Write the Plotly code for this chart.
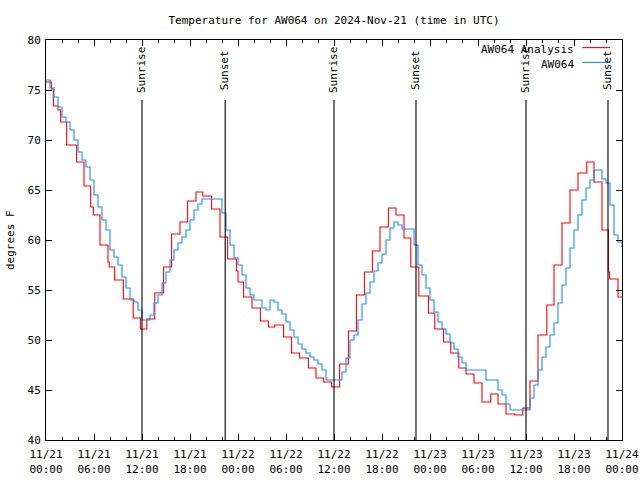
import numpy as np
import pandas as pd
import plotly.graph_objects as go

# ---------------- data ----------------
base = pd.Timestamp("2024-11-21 00:00")

# AW064 Analysis (hour offset of step start, temperature F)
red_hours = [0.0, 0.67, 0.92, 1.5, 1.83, 2.58, 3.83, 4.75, 5.58, 5.92, 6.75, 7.75, 7.9, 8.58,
             9.67, 10.9, 11.8, 12.6, 13.6, 14.7, 15.7, 16.75, 17.7, 18.75, 19.6, 20.7, 21.75,
             22.7, 23.8, 24.0, 24.7, 25.75, 26.8, 27.8, 28.6, 29.7, 30.7, 31.7, 32.8, 33.75,
             34.7, 35.7, 36.7, 37.8, 38.8, 39.8, 40.8, 41.75, 42.8, 43.75, 44.75, 45.6, 46.6,
             47.8, 48.6, 49.7, 50.6, 51.6, 52.5, 53.5, 54.5, 55.6, 56.5, 57.5, 58.6, 59.6,
             60.5, 61.5, 62.6, 63.5, 64.5, 65.5, 66.5, 67.6, 68.5, 69.5, 70.3, 70.45, 71.5]
red_temps = [75.8, 75.1, 73.4, 73.0, 71.8, 69.5, 67.8, 65.4, 63.3, 62.5, 59.5, 57.8, 57.3, 56.0,
             54.1, 52.2, 51.1, 52.1, 54.7, 57.3, 60.6, 61.8, 63.9, 64.8, 64.4, 63.1, 60.3,
             58.1, 56.9, 55.8, 54.3, 53.2, 51.9, 51.3, 51.5, 50.3, 48.7, 48.2, 47.2, 46.2,
             45.8, 45.3, 47.6, 50.9, 54.5, 56.8, 58.9, 61.3, 63.2, 62.5, 60.2, 57.3, 54.4,
             52.7, 51.1, 49.8, 48.7, 47.2, 46.6, 45.7, 43.8, 44.6, 43.6, 42.6, 42.5, 43.2,
             45.9, 50.5, 53.5, 57.5, 61.7, 65.0, 66.7, 67.8, 65.8, 61.0, 56.8, 56.1, 54.3]

# AW064 observations, every 30 minutes from 11/21 00:00
blue_temps = [76.0, 75.2, 74.3, 73.3, 72.3, 71.8, 71.0, 70.0, 68.8, 68.0, 67.3, 66.0,
              64.5, 63.3, 62.0, 61.0, 59.0, 58.3, 57.5, 56.3, 55.2, 54.0, 53.8, 53.0,
              52.0, 52.0, 52.5, 53.7, 54.5, 55.7, 56.8, 58.0, 59.0, 59.7, 60.3, 61.0,
              62.0, 63.0, 63.6, 64.1, 64.1, 64.1, 64.1, 64.1, 62.7, 61.0, 59.5, 58.2,
              57.5, 56.5, 55.2, 54.5, 54.0, 54.0, 53.2, 53.0, 54.0, 53.8, 53.0, 52.6,
              51.8, 51.0, 50.3, 49.6, 49.1, 48.7, 48.3, 48.0, 47.6, 47.0, 46.0, 46.0,
              46.0, 46.0, 46.8, 48.2, 50.0, 50.5, 52.0, 53.6, 54.7, 55.8, 56.9, 57.7,
              58.6, 60.0, 61.2, 61.8, 61.5, 61.1, 61.1, 61.1, 59.5, 57.5, 56.5, 55.2,
              54.0, 52.8, 51.8, 51.1, 50.6, 49.7, 49.1, 48.3, 47.7, 47.0, 47.0, 47.0,
              47.0, 47.0, 46.0, 46.0, 46.0, 45.0, 44.5, 43.6, 43.0, 43.0, 43.0, 43.0,
              43.0, 44.2, 45.5, 47.0, 48.3, 49.3, 50.5, 51.7, 53.7, 55.5, 57.2, 59.2,
              61.0, 62.5, 64.0, 65.2, 66.0, 67.0, 67.0, 66.1, 65.7, 63.5, 60.5, 59.8,
              59.3]
blue_step_hours = 0.5

sun_events = ["Sunrise", "Sunset", "Sunrise", "Sunset", "Sunrise", "Sunset"]
sun_hours = [12.0, 22.4, 36.0, 46.25, 60.0, 70.25]

series_names = ["AW064 Analysis", "AW064"]
series_colors = ["#ff0000", "#1a8cff"]
title_text = "Temperature for AW064 on 2024-Nov-21 (time in UTC)"
y_title = "degrees F"
end_hours = 72.0

# ---------------- build ----------------
def to_time(hours):
    return [base + pd.Timedelta(hours=float(h)) for h in hours]

red_x = to_time(list(red_hours) + [end_hours])
red_y = list(red_temps) + [red_temps[-1]]
blue_hours = [i * blue_step_hours for i in range(len(blue_temps))]
blue_x = to_time(blue_hours)

FONT = "DejaVu Sans Mono"
LW = 1.1
fig = go.Figure()
fig.add_trace(go.Scatter(x=red_x, y=red_y, mode="lines", line_shape="hv",
                         line=dict(color=series_colors[0], width=LW),
                         name=series_names[0], showlegend=False))
fig.add_trace(go.Scatter(x=blue_x, y=blue_temps, mode="lines", line_shape="hv",
                         line=dict(color=series_colors[1], width=LW),
                         name=series_names[1], showlegend=False))

shapes = []
annotations = []
for ev, h in zip(sun_events, sun_hours):
    t = base + pd.Timedelta(hours=h)
    shapes.append(dict(type="line", xref="x", yref="paper", x0=t, x1=t, y0=0, y1=0.85,
                       line=dict(color="black", width=LW)))
    annotations.append(dict(x=t, y=0.925, xref="x", yref="paper", text=ev, textangle=-90,
                            showarrow=False, xanchor="center", yanchor="middle",
                            font=dict(family=FONT, size=11, color="black")))

# gnuplot-style key (labels right, samples left of border)
key_y = [0.977, 0.94]
for name, col, ky in zip(series_names, series_colors, key_y):
    annotations.append(dict(x=0.921, y=ky, xref="paper", yref="paper", text=name,
                            showarrow=False, xanchor="right", yanchor="middle",
                            font=dict(family=FONT, size=11, color="black")))
    shapes.append(dict(type="line", xref="paper", yref="paper", x0=0.931, x1=0.979,
                       y0=ky + 0.004, y1=ky + 0.004, line=dict(color=col, width=LW)))

annotations.append(dict(x=-0.0625, y=0.5, xref="paper", yref="paper", text=y_title,
                        textangle=-90, showarrow=False, xanchor="center", yanchor="middle",
                        font=dict(family=FONT, size=11, color="black")))

fig.update_layout(
    width=640, height=480,
    margin=dict(l=46, r=18, t=40, b=40, autoexpand=False),
    paper_bgcolor="white", plot_bgcolor="white",
    title=dict(text=title_text, x=(46 + 288) / 640, xanchor="center", y=1 - 20 / 480,
               yanchor="middle", font=dict(family=FONT, size=11, color="black")),
    shapes=shapes, annotations=annotations,
    font=dict(family=FONT, size=11, color="black"),
)
fig.update_xaxes(
    type="date", automargin=False,
    range=[base, base + pd.Timedelta(hours=end_hours)],
    tick0=base, dtick=6 * 3600 * 1000, tickformat="%m/%d<br>%H:%M",
    ticks="inside", ticklen=6, tickcolor="black", mirror="allticks",
    showline=True, linecolor="black", linewidth=1, showgrid=False, zeroline=False,
    minor=dict(dtick=2 * 3600 * 1000, ticks="inside", ticklen=3, tickcolor="black",
               showgrid=False),
    ticklabelstandoff=4,
    tickfont=dict(family=FONT, size=11, color="black"),
)
fig.update_yaxes(
    range=[40, 80], dtick=5, tick0=40, automargin=False,
    ticks="inside", ticklen=6, tickcolor="black", mirror="allticks",
    showline=True, linecolor="black", linewidth=1, showgrid=False, zeroline=False,
    ticklabelstandoff=2,
    tickfont=dict(family=FONT, size=11, color="black"),
)

fig.write_html("out.html", config={"displayModeBar": False},
               post_script="document.body.style.margin='0px';document.body.style.overflow='hidden';")
